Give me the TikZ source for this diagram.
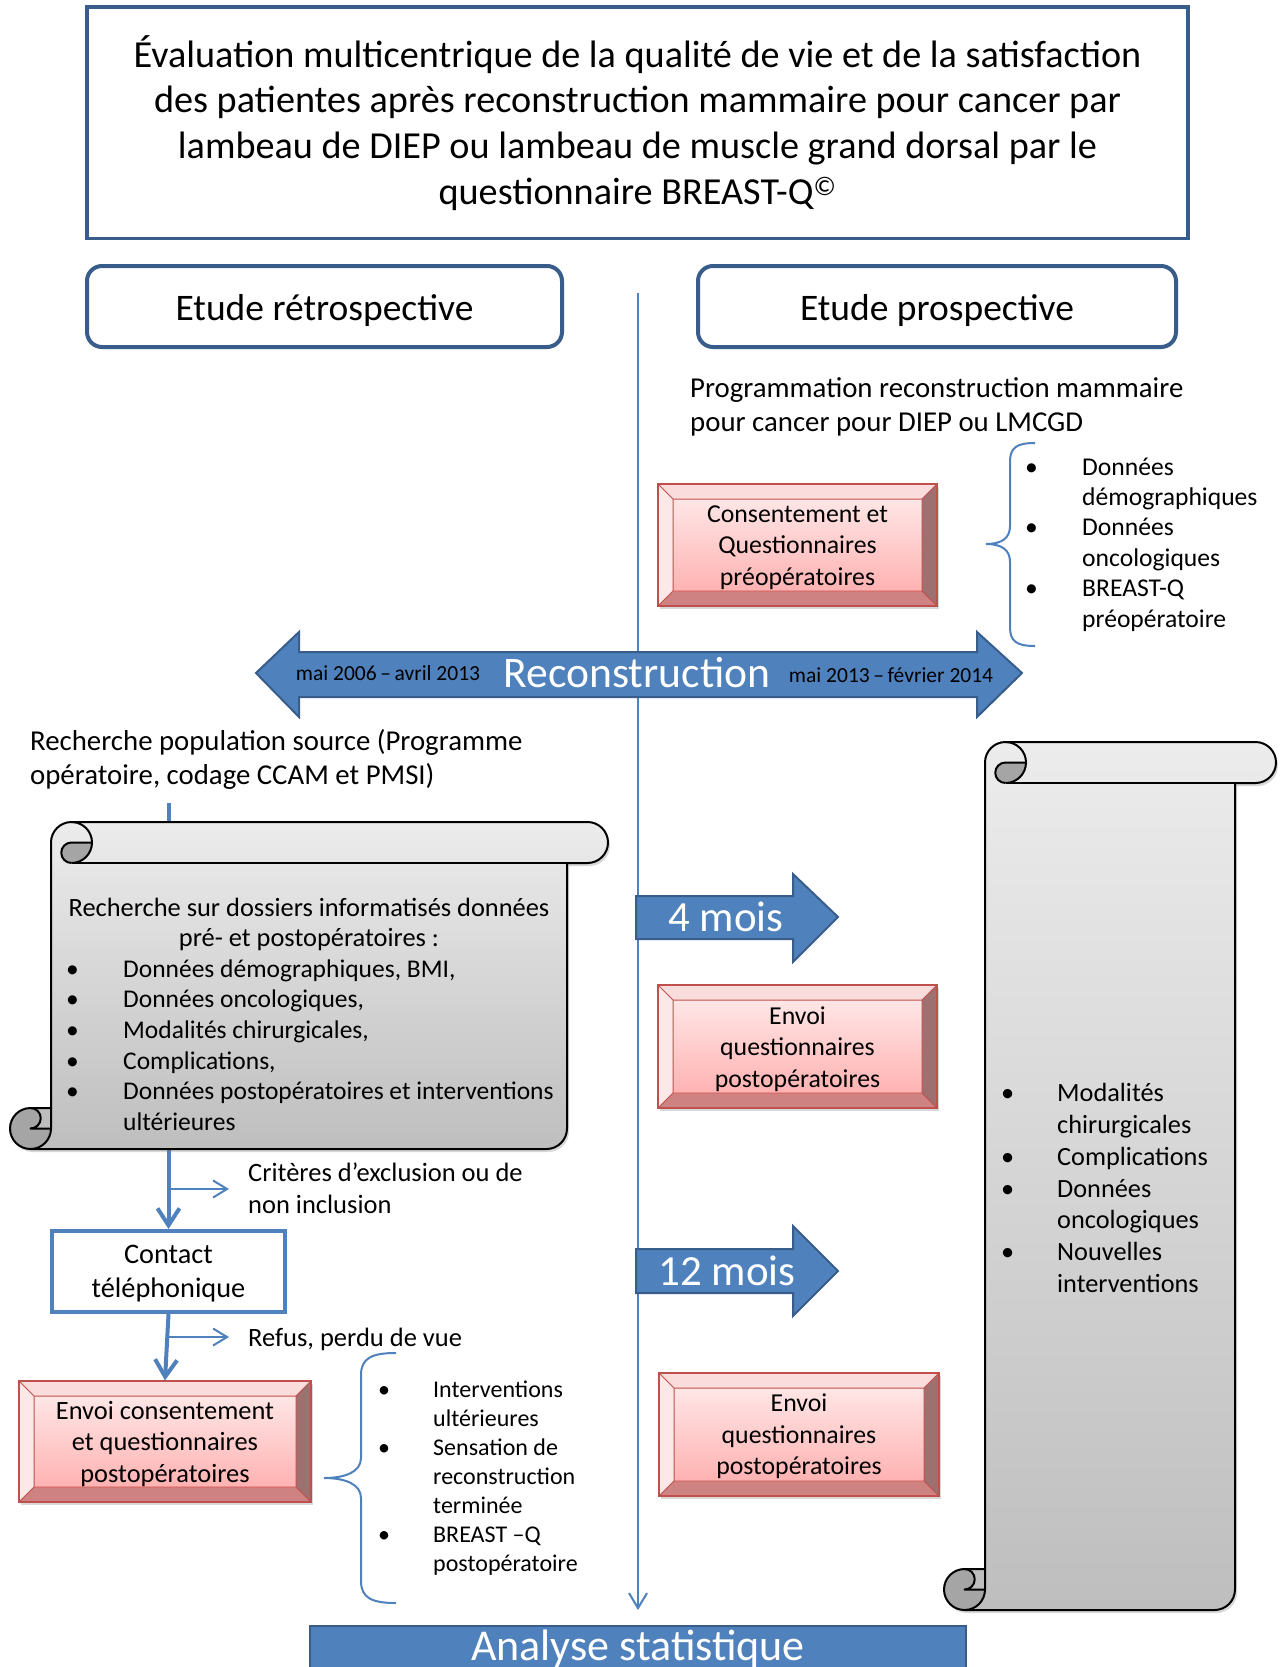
\documentclass[tikz,border=0pt]{standalone}
\usepackage{fontspec}
\setmainfont{Carlito}
\usetikzlibrary{arrows.meta,calc,shadows}

\definecolor{dblue}{RGB}{56,93,138}
\definecolor{mblue}{RGB}{79,129,189}
\definecolor{redl}{RGB}{192,80,77}
\definecolor{bevtopc}{RGB}{250,220,220}
\definecolor{bevleftc}{RGB}{252,232,232}
\definecolor{bevrightc}{RGB}{158,112,112}
\definecolor{bevbotc}{RGB}{206,130,130}
\definecolor{facetop}{RGB}{255,230,230}
\definecolor{facebot}{RGB}{255,178,178}
\definecolor{scrolltop}{RGB}{236,236,236}
\definecolor{scrollbot}{RGB}{190,190,190}
\definecolor{curldark}{RGB}{165,165,165}

\newcommand\fsTitle{\fontsize{38.2}{45.7}\selectfont}
\newcommand\fsEtude{\fontsize{37.5}{45}\selectfont}
\newcommand\fsProg{\fontsize{28.8}{34}\selectfont}
\newcommand\fsBul{\fontsize{25.6}{30.4}\selectfont}
\newcommand\fsBev{\fontsize{25.8}{31.5}\selectfont}
\newcommand\fsBevL{\fontsize{26.4}{31.5}\selectfont}
\newcommand\fsScrollH{\fontsize{26.4}{30.6}\selectfont}
\newcommand\fsScrollL{\fontsize{25.5}{30.6}\selectfont}
\newcommand\fsScrollR{\fontsize{26.3}{31.7}\selectfont}
\newcommand\fsCrit{\fontsize{26.5}{32}\selectfont}
\newcommand\fsContact{\fontsize{28.3}{34}\selectfont}
\newcommand\fsBulL{\fontsize{24}{28.9}\selectfont}
\newcommand\fsRecon{\fontsize{43.6}{50}\selectfont}
\newcommand\fsDate{\fontsize{21.5}{26}\selectfont}
\newcommand\fsMois{\fontsize{43}{50}\selectfont}
\newcommand\fsAna{\fontsize{44}{50}\selectfont}
\newcommand\bul[1]{\makebox[#1pt][l]{\textbullet}}
\newcommand\lowr[2]{\raisebox{-#1pt}[\height][\depth]{#2}}
\newcommand\ctab[1]{\begin{tabular}{@{}c@{}}#1\end{tabular}}

\newcommand{\drawscroll}[5]{%
 \pgfmathsetmacro\sL{#1}\pgfmathsetmacro\sT{#2}\pgfmathsetmacro\sR{#3}%
 \pgfmathsetmacro\sY{#4}\pgfmathsetmacro\sa{#5}\pgfmathsetmacro\sh{#5/2}%
 \shade[top color=scrolltop,bottom color=scrollbot,drop shadow={shadow xshift=2pt,shadow yshift=-3pt,opacity=0.3}]
   (\sL,\sT+\sa) arc[start angle=180,end angle=270,radius=\sa] -- (\sR-\sa,\sT)
   arc[start angle=270,end angle=450,radius=\sa] -- (\sR-2*\sa,\sT+2*\sa) -- (\sR-2*\sa,\sY-\sa)
   arc[start angle=0,end angle=90,radius=\sa] -- (\sL-\sa,\sY)
   arc[start angle=90,end angle=270,radius=\sa] -- (\sL,\sY-2*\sa) -- cycle;
 \fill[curldark] (\sL-\sa,\sY-\sa) circle[radius=\sa];
 \fill[scrollbot] (\sL-\sa,\sY-2*\sa) -- (\sL,\sY-2*\sa) -- (\sL,\sY-\sa) -- (\sL-\sa,\sY-\sa)
   arc[start angle=90,end angle=-90,radius=\sh] -- cycle;
 \fill[curldark] (\sL+\sa,\sT+\sa) -- (\sL+2*\sa,\sT+\sa) arc[start angle=0,end angle=90,radius=\sa]
   arc[start angle=90,end angle=270,radius=\sh] -- cycle;
 \draw[scrollline]
   (\sL,\sT+\sa) arc[start angle=180,end angle=270,radius=\sa] -- (\sR-\sa,\sT)
   arc[start angle=270,end angle=450,radius=\sa] -- (\sR-2*\sa,\sT+2*\sa) -- (\sR-2*\sa,\sY-\sa)
   arc[start angle=0,end angle=90,radius=\sa] -- (\sL-\sa,\sY)
   arc[start angle=90,end angle=270,radius=\sa] -- (\sL,\sY-2*\sa) -- cycle;
 \draw[scrollline] (\sR-2*\sa,\sT+2*\sa) -- (\sL+\sa,\sT+2*\sa);
 \draw[scrollline] (\sL+\sa,\sT) arc[start angle=270,end angle=450,radius=\sa];
 \draw[scrollline] (\sL+\sa,\sT+\sa) -- (\sL+2*\sa,\sT+\sa)
   (\sL+\sa,\sT+2*\sa) arc[start angle=90,end angle=270,radius=\sh];
 \draw[scrollline] (\sL,\sY-2*\sa) -- (\sL,\sY-\sa) -- (\sL-\sa,\sY-\sa)
   arc[start angle=90,end angle=-90,radius=\sh];
 \draw[scrollline] (\sL,\sY-\sa) arc[start angle=0,end angle=90,radius=\sa];
}

\begin{document}
\begin{tikzpicture}[x=1pt,y=-1pt,
  scrollline/.style={draw=black,line width=2pt,line join=round},
  bevel/.style={rectangle,inner sep=0pt,draw=redl,line width=1.2pt,align=center,font=\fsBev,
    drop shadow={shadow xshift=1.5pt,shadow yshift=-3pt,opacity=0.3},
    path picture={
      \coordinate (pnw) at (path picture bounding box.north west);
      \coordinate (pne) at (path picture bounding box.north east);
      \coordinate (pse) at (path picture bounding box.south east);
      \coordinate (psw) at (path picture bounding box.south west);
      \coordinate (qnw) at ($(pnw)+(15pt,-15pt)$);
      \coordinate (qne) at ($(pne)+(-15pt,-15pt)$);
      \coordinate (qse) at ($(pse)+(-15pt,15pt)$);
      \coordinate (qsw) at ($(psw)+(15pt,15pt)$);
      \fill[bevtopc] (pnw)--(pne)--(qne)--(qnw)--cycle;
      \fill[bevrightc] (pne)--(pse)--(qse)--(qne)--cycle;
      \fill[bevbotc] (pse)--(psw)--(qsw)--(qse)--cycle;
      \fill[bevleftc] (psw)--(pnw)--(qnw)--(qsw)--cycle;
      \shade[top color=facetop,bottom color=facebot] (qnw) rectangle (qse);
      \draw[redl,line width=1pt] (qnw)--(qne)--(qse)--(qsw)--cycle
        (pnw)--(qnw) (pne)--(qne) (pse)--(qse) (psw)--(qsw);
    }},
  bluearrow/.style={fill=mblue,draw=dblue,line width=2pt,line join=miter},
  brace/.style={draw=mblue,line width=2pt},
  thinline/.style={draw=mblue,line width=2pt},
  flowline/.style={draw=mblue,line width=4pt},
  txt/.style={inner sep=0pt,align=left}
]
\useasboundingbox (0,0) rectangle (1282,1667);
\clip (0,0) rectangle (1282,1667);
\fill[white] (0,0) rectangle (1282,1667);

% title and headers
\node[draw=dblue,line width=3.5pt,minimum width=1101pt,minimum height=231pt,inner sep=0pt,align=center,font=\fsTitle] (title) at (637.5,122.75)
 {Évaluation multicentrique de la qualité de vie et de la satisfaction\\des patientes après reconstruction mammaire pour cancer par\\lambeau de DIEP ou lambeau de muscle grand dorsal par le\\questionnaire BREAST-Q\textsuperscript{©}};
\node[draw=dblue,line width=4pt,rounded corners=15pt,minimum width=475pt,minimum height=81pt,inner sep=0pt,font=\fsEtude] (retro) at (324.5,306.5) {\lowr{4}{Etude rétrospective}};
\node[draw=dblue,line width=4pt,rounded corners=15pt,minimum width=478pt,minimum height=81pt,inner sep=0pt,font=\fsEtude] (prosp) at (937,306.5) {\lowr{4}{Etude prospective}};

% analyse box
\node[fill=mblue,draw=dblue,line width=2pt,minimum width=656pt,minimum height=80pt,anchor=north,inner sep=0pt] (analyse) at (638,1625) {};
\node[anchor=base,text=white,font=\fsAna,inner sep=0pt] (analysetxt) at (638,1660) {Analyse statistique};

% central timeline
\coordinate (ctop) at (638,293);
\draw[thinline,-{Straight Barb[length=15pt,width=18pt]}] (ctop) -- ([yshift=15pt]analyse.north);

% left flow
\node[draw=mblue,line width=4pt,minimum width=233pt,minimum height=81pt,inner sep=0pt,font=\fsContact] (contact) at (168.5,1271.5) {\lowr{2}{\ctab{Contact\\téléphonique}}};
\node[bevel,font=\fsBevL,minimum width=292pt,minimum height=121pt] (envoiL) at (165,1441.5) {\lowr{3}{\ctab{Envoi consentement\\et questionnaires\\postopératoires}}};
\coordinate (lstart) at (168.5,803);
\draw[flowline,-{Straight Barb[length=17pt,width=22pt]}] (lstart) -- (contact.north);
\draw[flowline,-{Straight Barb[length=17pt,width=22pt]}] (contact.south) -- (envoiL.north);

\coordinate (s1a) at (168.5,1189); \coordinate (s1b) at (229,1189);
\coordinate (s2a) at (168.5,1337); \coordinate (s2b) at (229,1337);
\draw[thinline,-{Straight Barb[length=14pt,width=17pt]}] (s1a) -- (s1b);
\draw[thinline,-{Straight Barb[length=14pt,width=17pt]}] (s2a) -- (s2b);
\node[txt,anchor=west,font=\fsCrit] (crit) at (248,1188) {Critères d’exclusion ou de\\non inclusion};
\node[txt,anchor=west,font=\fsCrit] (refus) at (248,1339.5) {Refus, perdu de vue};

% reconstruction arrow
\draw[bluearrow] (256,673) -- (299,632) -- (299,652) -- (977,652) -- (977,632) -- (1022,673) -- (977,717) -- (977,697) -- (299,697) -- (299,717) -- cycle;
\node[text=white,font=\fsRecon,inner sep=0pt] (recon) at (637,673) {Reconstruction};
\node[font=\fsDate,inner sep=0pt] (date1) at (388,673) {mai 2006\,–\,avril 2013};
\node[font=\fsDate,inner sep=0pt] (date2) at (891,675) {mai 2013\,–\,février 2014};

% 4 mois / 12 mois arrows
\draw[bluearrow] (636,896) -- (793,896) -- (793,874) -- (838,917) -- (793,962) -- (793,939) -- (636,939) -- cycle;
\node[text=white,font=\fsMois,inner sep=0pt] (m4) at (726,917) {4 mois};
\draw[bluearrow] (636,1249) -- (793,1249) -- (793,1226) -- (838,1271) -- (793,1316) -- (793,1293) -- (636,1293) -- cycle;
\node[text=white,font=\fsMois,inner sep=0pt] (m12) at (727,1271) {12 mois};

% prospective side
\node[txt,anchor=west,font=\fsProg] (prog) at (690,406.5) {Programmation reconstruction mammaire\\pour cancer pour DIEP ou LMCGD};
\node[bevel,minimum width=279pt,minimum height=122pt] (consent) at (797.5,545) {\lowr{2.5}{\ctab{Consentement et\\Questionnaires\\préopératoires}}};
\node[bevel,minimum width=279pt,minimum height=123pt] (envoi4) at (797.5,1046.5) {\lowr{3}{\ctab{Envoi\\questionnaires\\postopératoires}}};
\node[bevel,minimum width=280pt,minimum height=123pt] (envoi12) at (799,1434.5) {\lowr{2.5}{\ctab{Envoi\\questionnaires\\postopératoires}}};

\draw[brace] (1035,443) .. controls (1016,443) and (1010,448) .. (1010,462) -- (1010,526)
  .. controls (1010,538) and (1002,544) .. (986,544) .. controls (1002,544) and (1010,550) .. (1010,562)
  -- (1010,627) .. controls (1010,641) and (1016,646) .. (1035,646);
\node[txt,anchor=west,font=\fsBul] (bulR) at (1025,544.5)
 {\bul{57}Données\\\hspace*{57pt}démographiques\\\bul{57}Données\\\hspace*{57pt}oncologiques\\\bul{57}BREAST-Q\\\hspace*{57pt}préopératoire};

% left scroll
\node[txt,anchor=west,font=\fsProg] (popsrc) at (30,759.5) {Recherche population source (Programme\\opératoire, codage CCAM et PMSI)};
\drawscroll{51}{822}{608}{1149}{20.5}
\node[inner sep=0pt,align=center,font=\fsScrollH] (lhead) at (309,924.5) {Recherche sur dossiers informatisés données\\pré- et postopératoires :};
\node[txt,anchor=west,font=\fsScrollL] (lbul) at (66,1045)
 {\bul{57}Données démographiques, BMI,\\\bul{57}Données oncologiques,\\\bul{57}Modalités chirurgicales,\\\bul{57}Complications,\\\bul{57}Données postopératoires et interventions\\\hspace*{57pt}ultérieures};

% right scroll
\drawscroll{985}{742}{1276}{1610}{20.5}
\node[txt,anchor=west,font=\fsScrollR] (rbul) at (1001,1188)
 {\bul{56}Modalités\\\hspace*{56pt}chirurgicales\\\bul{56}Complications\\\bul{56}Données\\\hspace*{56pt}oncologiques\\\bul{56}Nouvelles\\\hspace*{56pt}interventions};

% bottom-left brace
\draw[brace] (396,1353) .. controls (372,1353) and (361,1358) .. (361,1375) -- (361,1458)
  .. controls (361,1472) and (345,1478) .. (324,1478) .. controls (345,1478) and (361,1484) .. (361,1498)
  -- (361,1581) .. controls (361,1598) and (372,1603) .. (396,1603);
\node[txt,anchor=west,font=\fsBulL] (bulL) at (378,1478)
 {\bul{55}Interventions\\\hspace*{55pt}ultérieures\\\bul{55}Sensation de\\\hspace*{55pt}reconstruction\\\hspace*{55pt}terminée\\\bul{55}BREAST –Q\\\hspace*{55pt}postopératoire};
\end{tikzpicture}
\end{document}
